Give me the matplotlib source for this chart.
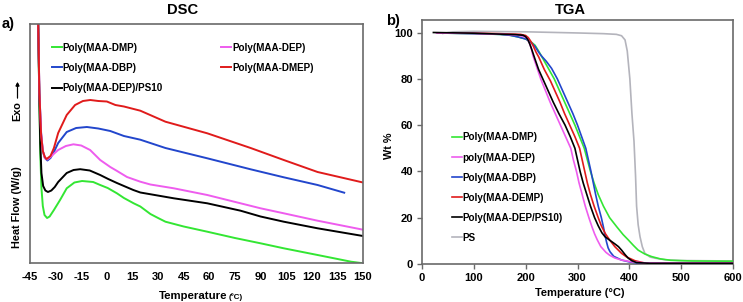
import matplotlib
matplotlib.use("Agg")
import matplotlib.pyplot as plt

plt.rcParams['font.family'] = ['Liberation Sans', 'DejaVu Sans']
plt.rcParams['font.weight'] = 'bold'

# ---------------- DSC data (temperature in degC, heat flow arbitrary units) ----------------
dsc_labels = ["Poly(MAA-DMP)", "Poly(MAA-DEP)", "Poly(MAA-DBP)", "Poly(MAA-DMEP)", "Poly(MAA-DEP)/PS10"]

dmp_T = [-40.3, -39.6, -39.0, -38.3, -37.5, -36.5, -35.0, -33.5, -31.0, -27.4, -23.5, -19.0, -14.5, -8.0,
         -3.9, 0.5, 5.9, 10.0, 15.7, 19.6, 25.5, 30.0, 34.3, 45.0, 58.8, 75.0, 90.0, 103.6, 123.4, 143.0, 148.8]
dmp_H = [250, 170, 110, 75, 57, 48, 45, 46.5, 53, 63, 74.7, 80.5, 82, 81, 78, 75, 69.7, 65, 59.7, 56.5,
         49, 45, 41.3, 36.5, 31.3, 25, 19.7, 14.7, 8, 1.3, 0]

dep_T = [-40.3, -39.5, -38.5, -37.5, -36.3, -35.0, -33.0, -30.5, -28.5, -24.0, -19.6, -15.0, -9.8, -3.9,
         2.0, 6.0, 11.8, 19.6, 25.5, 39.2, 58.8, 78.3, 90.0, 103.6, 123.4, 150.0]
dep_H = [250, 170, 130, 112, 105, 103.5, 106, 110, 113, 117, 118.7, 117.5, 113, 103, 96, 92, 86, 81.3,
         78.5, 74.7, 68, 59.7, 54.7, 49.7, 42.3, 33.3]

dbp_T = [-40.3, -39.5, -38.5, -37.5, -36.3, -34.8, -33.0, -31.0, -28.5, -23.5, -18.0, -11.7, -5.0, 2.0,
         10.0, 19.6, 34.3, 58.8, 84.2, 103.6, 123.4, 139.0]
dbp_H = [250, 170, 130, 112, 105, 102.5, 105, 111, 120, 131, 135, 136, 134.5, 132, 127, 123.3, 115,
         104.7, 93.7, 85.7, 78, 70.3]

dmep_T = [-40.3, -39.5, -38.5, -37.5, -36.3, -35.3, -33.0, -31.0, -28.5, -23.5, -18.6, -14.0, -9.7, -5.0,
          0.0, 5.0, 10.0, 19.6, 34.3, 58.8, 84.2, 103.6, 123.4, 150.0]
dmep_H = [250, 170, 128, 112, 106, 104, 107, 115, 130, 148, 158, 162, 163, 162, 161.5, 158, 156.5,
          152.3, 141.3, 129.7, 115, 103, 91, 80.5]

ps10_T = [-40.3, -39.6, -39.0, -38.3, -37.3, -36.0, -34.5, -32.5, -30.5, -28.5, -23.5, -19.5, -15.6,
          -10.0, -3.9, 0.8, 5.9, 10.0, 15.5, 19.6, 39.2, 58.8, 78.3, 90.0, 103.6, 123.4, 150.0]
ps10_H = [250, 170, 120, 90, 77, 72.5, 71, 72.5, 76, 81, 90, 93, 93.8, 92.5, 88, 84, 80, 77, 73, 70.5,
          64.7, 59.7, 52.3, 46.5, 41.3, 34.7, 27]

# ---------------- TGA data (temperature in degC, weight %) ----------------
tga_labels = ["Poly(MAA-DMP)", "poly(MAA-DEP)", "Poly(MAA-DBP)", "Poly(MAA-DEMP)", "Poly(MAA-DEP/PS10)", "PS"]

t_dmp_T = [30, 100, 150, 170, 185, 200, 210, 218, 225, 235, 245, 255, 265, 275, 285, 295, 304, 313, 319,
           325, 332, 340, 350, 362, 376, 388, 398, 408, 417, 430, 443, 460, 480, 520, 600]
t_dmp_W = [99.8, 99.5, 99.2, 98.8, 98.1, 97.2, 96.0, 94.5, 92.0, 88.0, 84.0, 80.0, 75.0, 70.0, 65.0, 60.0,
           55.0, 50.0, 45.0, 40.0, 35.0, 30.0, 25.0, 20.0, 16.0, 12.7, 10.4, 8.0, 6.0, 4.3, 3.2, 2.2, 1.6, 1.3, 1.2]

t_dep_T = [28, 100, 150, 185, 200, 204, 208, 211, 214, 220, 229, 238, 247, 257, 267, 277, 287, 292, 298,
           303, 309, 315, 322, 328, 333, 338, 345, 355, 362, 372, 385, 405, 430, 600]
t_dep_W = [99.8, 99.6, 99.3, 98.9, 98.0, 97.0, 95.0, 93.0, 90.0, 86.0, 80.0, 75.0, 70.0, 65.0, 60.0, 55.0,
           50.0, 45.0, 40.0, 35.0, 30.0, 25.0, 20.0, 16.0, 13.0, 10.5, 7.5, 5.0, 3.8, 2.6, 1.7, 0.9, 0.5, 0.4]

t_dbp_T = [30, 100, 150, 170, 185, 200, 210, 218, 225, 230, 240, 250, 261, 271, 281, 291, 300, 308, 316,
           321, 326, 330.5, 335, 340, 346, 350, 353, 356, 359, 362.7, 370, 385, 400, 414, 600]
t_dbp_W = [99.8, 99.5, 99.2, 98.8, 98.1, 97.2, 95.8, 94.0, 91.5, 90.0, 87.5, 84.5, 80.0, 75.0, 70.0, 65.0,
           60.0, 55.0, 50.0, 45.0, 40.0, 35.0, 30.0, 25.0, 20.0, 16.0, 12.5, 9.5, 7.0, 5.3, 3.3, 1.7, 0.9, 0.5, 0.3]

t_demp_T = [30, 100, 150, 190, 200, 205, 209, 214, 220, 225, 236, 248, 257, 266, 275, 285, 295, 304, 309,
            314, 319, 325, 332, 340, 346, 354, 362, 372, 385, 395, 411, 428, 600]
t_demp_W = [99.8, 99.7, 99.5, 99.2, 98.7, 97.8, 96.5, 94.5, 91.5, 89.5, 84.0, 79.0, 74.5, 70.0, 65.0, 60.0,
            55.0, 50.0, 45.0, 40.0, 35.0, 30.0, 25.0, 20.0, 16.5, 13.0, 10.4, 7.5, 4.6, 3.0, 1.4, 0.5, 0.4]

t_ps10_T = [22, 100, 150, 180, 195, 200, 204, 208, 212, 218, 225, 233, 243, 253, 264, 276, 286, 295, 300,
            305, 311, 318, 325, 333, 340, 347, 353, 362, 372, 379, 385, 392, 398, 405, 414, 440, 600]
t_ps10_W = [100.0, 99.7, 99.3, 99.1, 98.8, 98.2, 97.0, 95.0, 92.5, 88.5, 84.0, 80.0, 75.0, 70.0, 65.0, 60.0,
            55.0, 50.0, 45.0, 40.0, 35.0, 30.0, 25.0, 20.0, 16.5, 13.5, 11.8, 10.3, 8.7, 7.5, 6.0, 4.0, 2.5,
            1.4, 0.6, 0.3, 0.3]

t_ps_T = [40, 60, 100, 200, 300, 350, 375, 385, 391.7, 396, 401, 405, 409, 412, 414, 417, 420.6, 425, 430,
          440, 450, 470, 500, 600]
t_ps_W = [99.6, 100.3, 100.5, 100.3, 99.8, 99.5, 99.2, 98.6, 96.8, 92.0, 80.0, 65.0, 53.0, 38.0, 25.0, 17.0,
          11.8, 7.5, 4.6, 3.0, 2.5, 1.8, 1.5, 1.3]

dsc_ticks = [-45, -30, -15, 0, 15, 30, 45, 60, 75, 90, 105, 120, 135, 150]
tga_xticks = [0, 100, 200, 300, 400, 500, 600]
tga_yticks = [0, 20, 40, 60, 80, 100]

C_GREEN = '#33e633'
C_PINK = '#ee5cee'
C_BLUE = '#2246cc'
C_RED = '#e01b1b'
C_BLACK = '#000000'
C_GRAY = '#b4b4bc'
SPINE = '#6a6a6a'

W, H = 743, 302
fig = plt.figure(figsize=(W / 100, H / 100), dpi=100)

def fx(px):
    return px / W

def fy(py):
    return 1 - py / H

# ---------------- DSC axes ----------------
ax1 = fig.add_axes([fx(30), fy(263), fx(363) - fx(30), fy(24) - fy(263)])
lw = 1.4
ax1.plot(dmp_T, dmp_H, color=C_GREEN, lw=lw, label=dsc_labels[0])
ax1.plot(dbp_T, dbp_H, color=C_BLUE, lw=lw, label=dsc_labels[2])
ax1.plot(ps10_T, ps10_H, color=C_BLACK, lw=lw, label=dsc_labels[4])
ax1.plot(dep_T, dep_H, color=C_PINK, lw=lw, label=dsc_labels[1])
ax1.plot(dmep_T, dmep_H, color=C_RED, lw=lw, label=dsc_labels[3])
ax1.set_xlim(-45, 150)
ax1.set_ylim(0, 239)
ax1.set_xticks(dsc_ticks)
ax1.set_xticklabels([str(t) for t in dsc_ticks], fontsize=8, fontweight='bold')
ax1.set_yticks([])
ax1.tick_params(axis='x', length=0, pad=6.5)
for s in ax1.spines.values():
    s.set_color(SPINE)
    s.set_linewidth(1.2)
ax1.legend(ncol=2, loc='upper left', bbox_to_anchor=(0.066, 0.922), borderaxespad=0, borderpad=0,
           frameon=False, handlelength=1.0, handletextpad=0.1, labelspacing=1.03, columnspacing=5.9,
           prop={'size': 7.1, 'weight': 'bold'})

# ---------------- TGA axes ----------------
ax2 = fig.add_axes([fx(422), fy(264), fx(733) - fx(422), fy(20) - fy(264)])
lw2 = 1.2
ax2.plot(t_ps_T, t_ps_W, color=C_GRAY, lw=lw2, label=tga_labels[5], zorder=2)
ax2.plot(t_dmp_T, t_dmp_W, color=C_GREEN, lw=lw2, label=tga_labels[0], zorder=3)
ax2.plot(t_dbp_T, t_dbp_W, color=C_BLUE, lw=lw2, label=tga_labels[2], zorder=3)
ax2.plot(t_demp_T, t_demp_W, color=C_RED, lw=lw2, label=tga_labels[3], zorder=3)
ax2.plot(t_dep_T, t_dep_W, color=C_PINK, lw=lw2, label=tga_labels[1], zorder=3)
ax2.plot(t_ps10_T, t_ps10_W, color=C_BLACK, lw=lw2, label=tga_labels[4], zorder=4)
ax2.set_xlim(0, 600)
ax2.set_ylim(0, 105.4)
ax2.set_xticks(tga_xticks)
ax2.set_yticks(tga_yticks)
ax2.set_xticklabels([str(t) for t in tga_xticks], fontsize=8, fontweight='bold')
ax2.set_yticklabels([str(t) for t in tga_yticks], fontsize=8, fontweight='bold')
ax2.tick_params(direction='out', length=3.5, width=1, color=SPINE, pad=3)
for s in ax2.spines.values():
    s.set_color(SPINE)
    s.set_linewidth(1.2)
h, l = ax2.get_legend_handles_labels()
hd = {lab: hh for hh, lab in zip(h, l)}
ax2.legend([hd[x] for x in tga_labels], tga_labels, loc='upper left', bbox_to_anchor=(0.0955, 0.539),
           borderaxespad=0, borderpad=0, frameon=False, handlelength=1.0, handletextpad=0.1,
           labelspacing=1.02, prop={'size': 7.1, 'weight': 'bold'})

# ---------------- texts ----------------
fig.text(fx(182.5), fy(10), "DSC", ha='center', va='center', fontsize=10.6, fontweight='bold')
fig.text(fx(570), fy(10), "TGA", ha='center', va='center', fontsize=10.6, fontweight='bold')
fig.text(fx(2), fy(24), "a)", ha='left', va='center', fontsize=10.5, fontweight='bold')
fig.text(fx(386), fy(21), "b)", ha='left', va='center', fontsize=10.5, fontweight='bold')

fig.text(fx(227), fy(299.3), "Temperature", ha='right', va='baseline', fontsize=8.2, fontweight='bold')
fig.text(fx(229), fy(299.3), "(ºC)", ha='left', va='baseline', fontsize=5.8, fontweight='bold')
fig.text(fx(580), fy(296.5), "Temperature (°C)", ha='center', va='baseline', fontsize=8, fontweight='bold')

fig.text(fx(17.5), fy(207.5), "Heat Flow (W/g)", ha='center', va='center', rotation=90,
         fontsize=7.8, fontweight='bold')
fig.text(fx(17.5), fy(111.5), "Exo", ha='center', va='center', rotation=90, fontsize=7.8, fontweight='bold')
fig.add_artist(plt.annotate("", xy=(fx(17.5), fy(82)), xytext=(fx(17.5), fy(98)),
                            xycoords='figure fraction', textcoords='figure fraction',
                            arrowprops=dict(arrowstyle='-|>', color='black', lw=0.8,
                                            mutation_scale=5, shrinkA=0, shrinkB=0)))
fig.text(fx(389), fy(146), "Wt %", ha='center', va='center', rotation=90, fontsize=7.8, fontweight='bold')

fig.savefig("out.png", dpi=100)
